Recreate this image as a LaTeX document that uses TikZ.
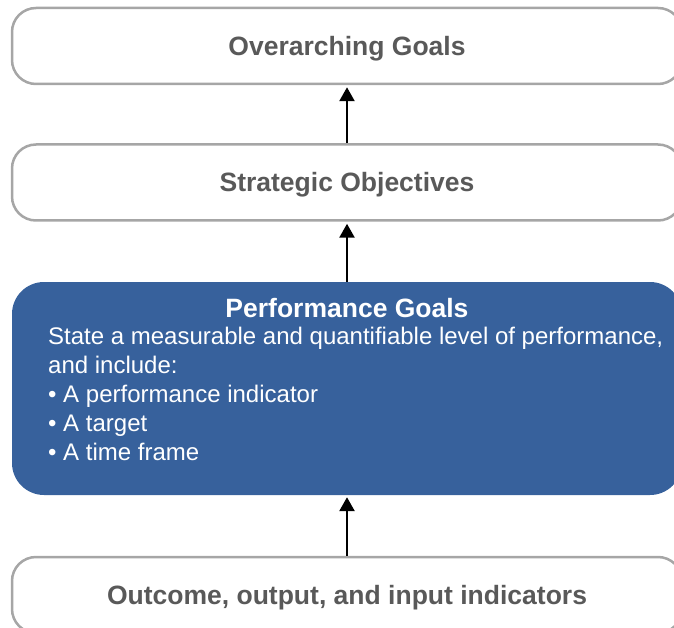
\documentclass[tikz,border=0pt]{standalone}
\usepackage{fontspec}
\setmainfont{Liberation Sans}
\usetikzlibrary{arrows.meta}
\definecolor{goalblue}{HTML}{37619C}
\definecolor{boxgray}{HTML}{A6A6A6}
\definecolor{labelgray}{HTML}{595959}
\begin{document}
\begin{tikzpicture}[x=1pt, y=1pt,
    goalbox/.style={rectangle, rounded corners=24pt, draw=boxgray, line width=2.5pt, fill=white,
        minimum width=670pt, minimum height=76pt, text=labelgray,
        font=\fontsize{26.5}{30}\selectfont\bfseries, text height=19pt, text depth=0pt},
    bluebox/.style={rectangle, rounded corners=32pt, fill=goalblue, minimum width=670pt, minimum height=213pt},
    uparrow/.style={-{Triangle[width=15pt,length=14pt]}, line width=2.6pt, black, shorten >=2pt}]
    \useasboundingbox (0,0) rectangle (674,-628);

    \node[goalbox] (over) at (347,-46) {Overarching Goals};
    \node[goalbox] (strat) at (347,-182.5) {Strategic Objectives};
    \node[bluebox] (perf) at (347,-388.5) {};
    \node[text=white, font=\fontsize{26.5}{30}\selectfont\bfseries] (perftitle) at (347,-308) {Performance Goals};
    \node[text=white, font=\fontsize{24}{29}\selectfont, align=left, anchor=north west, inner sep=0pt] (perftext) at (48,-327)
        {State a measurable and quantifiable level of performance,\\and include:\\• A performance indicator\\• A target\\• A time frame};
    \node[goalbox] (ind) at (347,-595) {Outcome, output, and input indicators};

    \draw[uparrow] (strat.north) -- (over.south);
    \draw[uparrow] (perf.north) -- (strat.south);
    \draw[uparrow] (ind.north) -- (perf.south);
\end{tikzpicture}
\end{document}
